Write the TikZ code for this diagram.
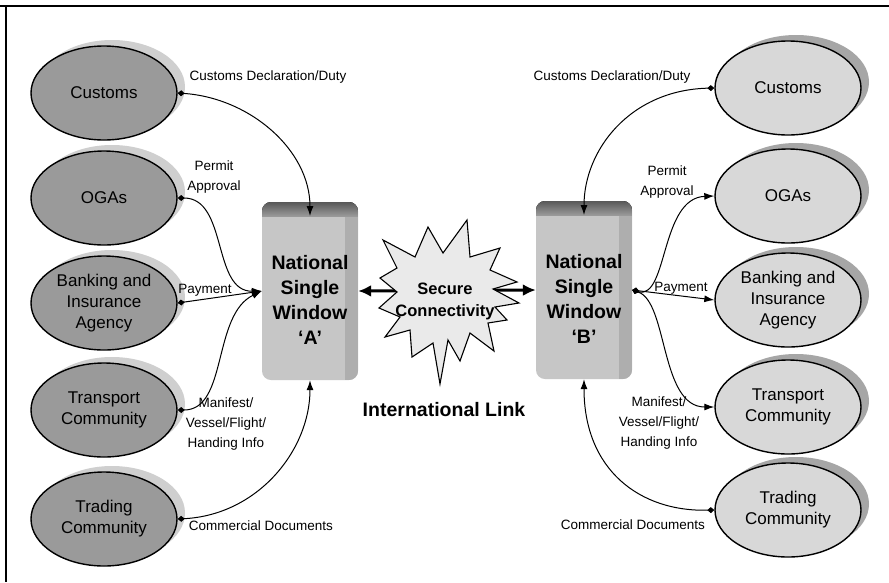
\documentclass[tikz,border=0pt]{standalone}
\usepackage{fontspec}
\setmainfont{Liberation Sans}
\usetikzlibrary{shapes.geometric,arrows.meta,shadows}
\definecolor{leftfill}{HTML}{9A9A9A}
\definecolor{leftshadow}{HTML}{CFCFCF}
\definecolor{rightfill}{HTML}{D8D8D8}
\definecolor{rightshadow}{HTML}{A6A6A6}
\definecolor{srvfill}{HTML}{C6C6C6}
\definecolor{srvside}{HTML}{AEAEAE}
\definecolor{srvtop}{HTML}{6E6E6E}
\definecolor{starfill}{HTML}{EAEAEA}
\tikzset{mydia/.tip={Diamond[length=7pt,width=6pt]}, mytip/.tip={Latex[length=10pt,width=7pt]}}
\begin{document}
\begin{tikzpicture}[x=1pt,y=-1pt,
  ell/.style={ellipse, draw=black, line width=1.4pt, minimum width=146pt, minimum height=94pt,
    align=center, inner sep=0pt, font=\fontsize{17}{21}\selectfont},
  lell/.style={ell, fill=leftfill, drop shadow={shadow xshift=8pt, shadow yshift=6pt, fill=leftshadow, opacity=1}},
  rell/.style={ell, fill=rightfill, drop shadow={shadow xshift=8pt, shadow yshift=6pt, fill=rightshadow, opacity=1}},
  lbl/.style={font=\fontsize{13.5}{20}\selectfont, align=center, inner sep=0pt},
  conn/.style={line width=1pt},
  srvbody/.style={rectangle, rounded corners=9pt, fill=srvfill, minimum width=96pt, minimum height=178pt, inner sep=0pt},
  srvtext/.style={font=\bfseries\fontsize{19.5}{25}\selectfont, align=center, inner sep=0pt}
]
\useasboundingbox (0,0) rectangle (889,582);
\fill[white] (0,0) rectangle (889,582);
% frame
\draw[line width=2pt] (0,6) -- (889,6);
\draw[line width=2pt] (6,5) -- (6,582);

% left ellipses
\node[lell] (custL) at (104,93) {Customs};
\node[lell] (ogaL) at (104,198) {OGAs};
\node[lell] (bankL) at (104,303) {Banking and\\Insurance\\Agency};
\node[lell] (trL) at (104,410) {Transport\\Community};
\node[lell] (trdL) at (104,519) {Trading\\Community};

% right ellipses
\node[rell] (custR) at (788,88) {Customs};
\node[rell] (ogaR) at (788,196) {OGAs};
\node[rell] (bankR) at (788,300) {Banking and\\Insurance\\Agency};
\node[rell] (trR) at (788,407) {Transport\\Community};
\node[rell] (trdR) at (788,510) {Trading\\Community};

% servers
\node[srvbody] (srvA) at (310,291) {};
\begin{scope}
\clip[rounded corners=9pt] (262,202) rectangle (358,380);
\fill[srvside] (345,202) rectangle (358,380);
\fill[top color=srvtop!80!black, bottom color=srvtop!70] (262,202) rectangle (358,216);
\end{scope}
\node[srvtext] (srvAtext) at (310,300) {National\\Single\\Window\\‘A’};

\node[srvbody] (srvB) at (584,290) {};
\begin{scope}
\clip[rounded corners=9pt] (536,201) rectangle (632,379);
\fill[srvside] (619,201) rectangle (632,379);
\fill[top color=srvtop!80!black, bottom color=srvtop!70] (536,201) rectangle (632,215);
\end{scope}
\node[srvtext] (srvBtext) at (584,299) {National\\Single\\Window\\‘B’};

\coordinate (aTop) at (310,216);
\coordinate (bTop) at (584,215);

% international link arrow
\draw[line width=3pt, {Latex[length=13pt,width=12pt]}-{Latex[length=13pt,width=12pt]}] (srvA.east) -- (srvB.west);

% starburst
\draw[fill=starfill, line width=1.1pt, line join=miter]
  (467,220) -- (470,257) -- (500,248) -- (490,270) -- (517,282) -- (493,289)
  -- (519,303) -- (495,307) -- (507,320) -- (488,323) -- (494,351) -- (470,333)
  -- (460,361) -- (448,340) -- (440,384) -- (433,343) -- (412,357) -- (410,330)
  -- (385,337) -- (400,317) -- (379,308) -- (397,292) -- (380,278) -- (397,268)
  -- (383,240) -- (415,257) -- (428,227) -- (443,253) -- cycle;
\node[srvtext, font=\bfseries\fontsize{16.5}{22}\selectfont] (star) at (445,301) {Secure\\Connectivity};
\node[srvtext] (intl) at (444,410) {International Link};

% left connectors
\draw[conn, {mydia}-{mytip}] (custL.east) .. controls (250,98) and (310,150) .. (aTop);
\draw[conn, {mydia}-{mytip}] (ogaL.east) .. controls (228,198) and (212,292) .. (srvA.west);
\draw[conn, {mydia}-{mytip}] (bankL.east) -- (srvA.west);
\draw[conn, {mydia}-{mytip}] (trL.east) .. controls (228,410) and (212,315) .. (srvA.west);
\draw[conn, {mydia}-{mytip}] (trdL.east) .. controls (258,515) and (310,450) .. (srvA.south);

% right connectors
\draw[conn, {mytip}-{mydia}] (bTop) .. controls (584,150) and (630,90) .. (custR.west);
\draw[conn, {mydia}-{mytip}] (srvB.east) .. controls (668,300) and (660,198) .. (ogaR.west);
\draw[conn, {mydia}-{mytip}] (srvB.east) -- (bankR.west);
\draw[conn, {mydia}-{mytip}] (srvB.east) .. controls (668,302) and (660,407) .. (trR.west);
\draw[conn, {mytip}-{mydia}] (srvB.south) .. controls (584,470) and (640,512) .. (trdR.west);

% labels left
\node[lbl] (l1) at (268,77) {Customs Declaration/Duty};
\node[lbl] (l2) at (214,177) {Permit\\Approval};
\node[lbl] (l3) at (205,290) {Payment};
\node[lbl] (l4) at (226,424) {Manifest/\\Vessel/Flight/\\Handing Info};
\node[lbl] (l5) at (261,526) {Commercial Documents};

% labels right
\node[lbl] (r1) at (612,77) {Customs Declaration/Duty};
\node[lbl] (r2) at (667,182) {Permit\\Approval};
\node[lbl] (r3) at (681,288) {Payment};
\node[lbl] (r4) at (659,423) {Manifest/\\Vessel/Flight/\\Handing Info};
\node[lbl] (r5) at (633,525) {Commercial Documents};
\end{tikzpicture}
\end{document}
